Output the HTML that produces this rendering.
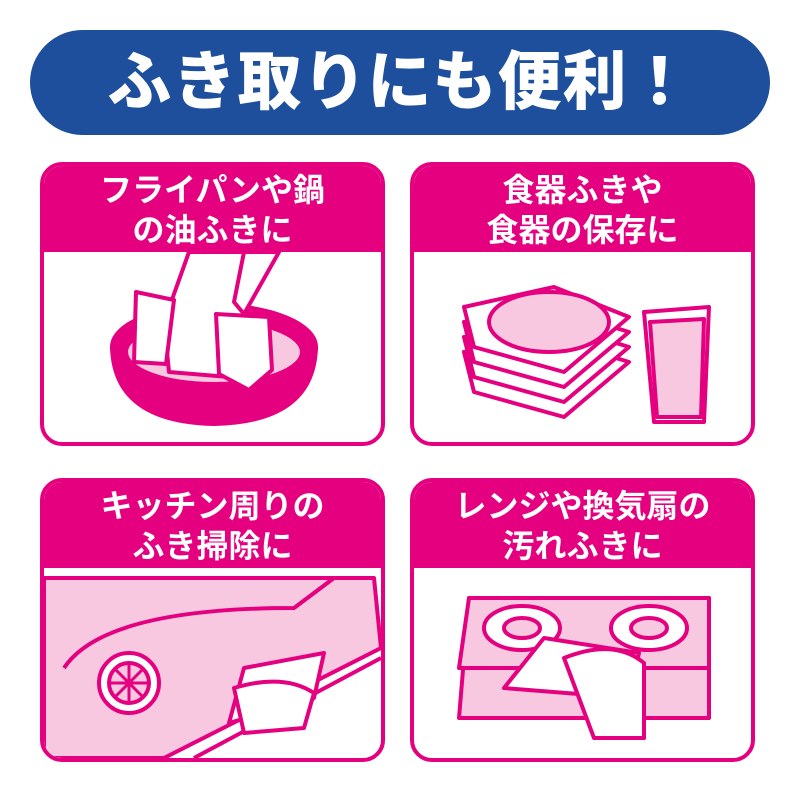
<!DOCTYPE html>
<html><head><meta charset="utf-8">
<style>
body{margin:0;width:800px;height:800px;background:#fff;overflow:hidden;font-family:"Liberation Sans","Noto Sans CJK JP",sans-serif;}
.pill{position:absolute;left:30px;top:30px;width:740px;height:105px;border-radius:53px;background:#1d4f9c;color:#fff;font-size:64px;font-weight:900;text-align:center;line-height:105px;letter-spacing:1px;}
.panel{position:absolute;width:337px;height:276px;border:4px solid #e4007f;border-radius:22px;background:#fff;overflow:hidden;}
.hd{background:#e4007f;color:#fff;height:86px;font-size:32px;font-weight:bold;text-align:center;line-height:40px;padding-top:4px;box-sizing:border-box;white-space:nowrap;}
svg{position:absolute;left:0;top:86px;}
</style></head><body>
<div class="pill">ふき取りにも便利！</div>

<div class="panel" style="left:40px;top:162px;">
<div class="hd">フライパンや鍋<br>の油ふきに</div>
<svg width="337" height="190" viewBox="0 0 337 190">
<g stroke="#e4007f" stroke-width="4" stroke-linejoin="round">
<path d="M68 95 Q70 170 170 172 Q270 170 272 95 Z" fill="#e4007f"/>
<ellipse cx="170" cy="95" rx="102" ry="42" fill="#e4007f"/>
<ellipse cx="170" cy="100" rx="88" ry="32" fill="#f8c8e0"/>
<path d="M145 0 L120 70 L125 120 L185 125 L200 60 L205 0 Z" fill="#fff"/>
<path d="M200 0 L190 50 L200 62 L235 0 Z" fill="#fff"/>
<path d="M92 40 L130 48 L122 112 L90 110 Z" fill="#fff"/>
<path d="M172 62 L225 65 L228 118 L205 138 L175 122 Z" fill="#fff"/>
</g></svg></div>

<div class="panel" style="left:410px;top:162px;">
<div class="hd">食器ふきや<br>食器の保存に</div>
<svg width="337" height="190" viewBox="0 0 337 190">
<g stroke="#e4007f" stroke-width="4" stroke-linejoin="round">
<path d="M50 100 L150 90 L215 110 L150 165 L60 140 Z" fill="#fff"/>
<path d="M50 85 L150 75 L215 95 L150 150 L60 125 Z" fill="#fff"/>
<path d="M50 70 L150 60 L215 80 L150 135 L60 110 Z" fill="#fff"/>
<path d="M50 55 L140 35 L215 65 L150 120 L60 95 Z" fill="#fff"/>
<ellipse cx="135" cy="70" rx="60" ry="30" fill="#f8c8e0"/>
<path d="M230 60 L295 55 L290 170 L240 170 Z" fill="#fff"/>
<path d="M236 70 L290 67 L287 165 L243 165 Z" fill="#f8c8e0"/>
</g></svg></div>

<div class="panel" style="left:40px;top:478px;">
<div class="hd">キッチン周りの<br>ふき掃除に</div>
<svg width="337" height="190" viewBox="0 0 337 190">
<g stroke="#e4007f" stroke-width="4" stroke-linejoin="round">
<path d="M0 10 L330 10 L337 80 L120 190 L0 190 Z" fill="#f8c8e0"/>
<path d="M20 100 Q60 40 250 40 L290 10" fill="none"/>
<path d="M337 90 L150 190" fill="none"/>
<circle cx="85" cy="115" r="30" fill="#fff"/>
<circle cx="85" cy="115" r="20" fill="#f8c8e0"/>
<path d="M85 95 V135 M65 115 H105 M71 101 L99 129 M99 101 L71 129" fill="none" stroke-width="3"/>
<path d="M200 100 L280 85 L270 130 L185 155 Z" fill="#fff"/>
<path d="M190 120 Q240 105 270 125 L260 160 L200 165 Z" fill="#fff"/>
</g></svg></div>

<div class="panel" style="left:410px;top:478px;">
<div class="hd">レンジや換気扇の<br>汚れふきに</div>
<svg width="337" height="190" viewBox="0 0 337 190">
<g stroke="#e4007f" stroke-width="4" stroke-linejoin="round">
<path d="M55 30 L295 30 L295 150 L45 150 Z" fill="#f8c8e0"/>
<path d="M55 30 L295 30 L295 100 L45 100 Z" fill="#f8c8e0"/>
<ellipse cx="108" cy="60" rx="38" ry="22" fill="#fff"/>
<ellipse cx="108" cy="60" rx="18" ry="10" fill="#f8c8e0"/>
<ellipse cx="235" cy="60" rx="38" ry="22" fill="#fff"/>
<ellipse cx="235" cy="60" rx="18" ry="10" fill="#f8c8e0"/>
<path d="M130 70 L225 85 L215 130 L90 120 Z" fill="#fff"/>
<path d="M150 90 Q200 70 230 95 L230 170 L180 170 Z" fill="#fff"/>
</g></svg></div>
</body></html>
